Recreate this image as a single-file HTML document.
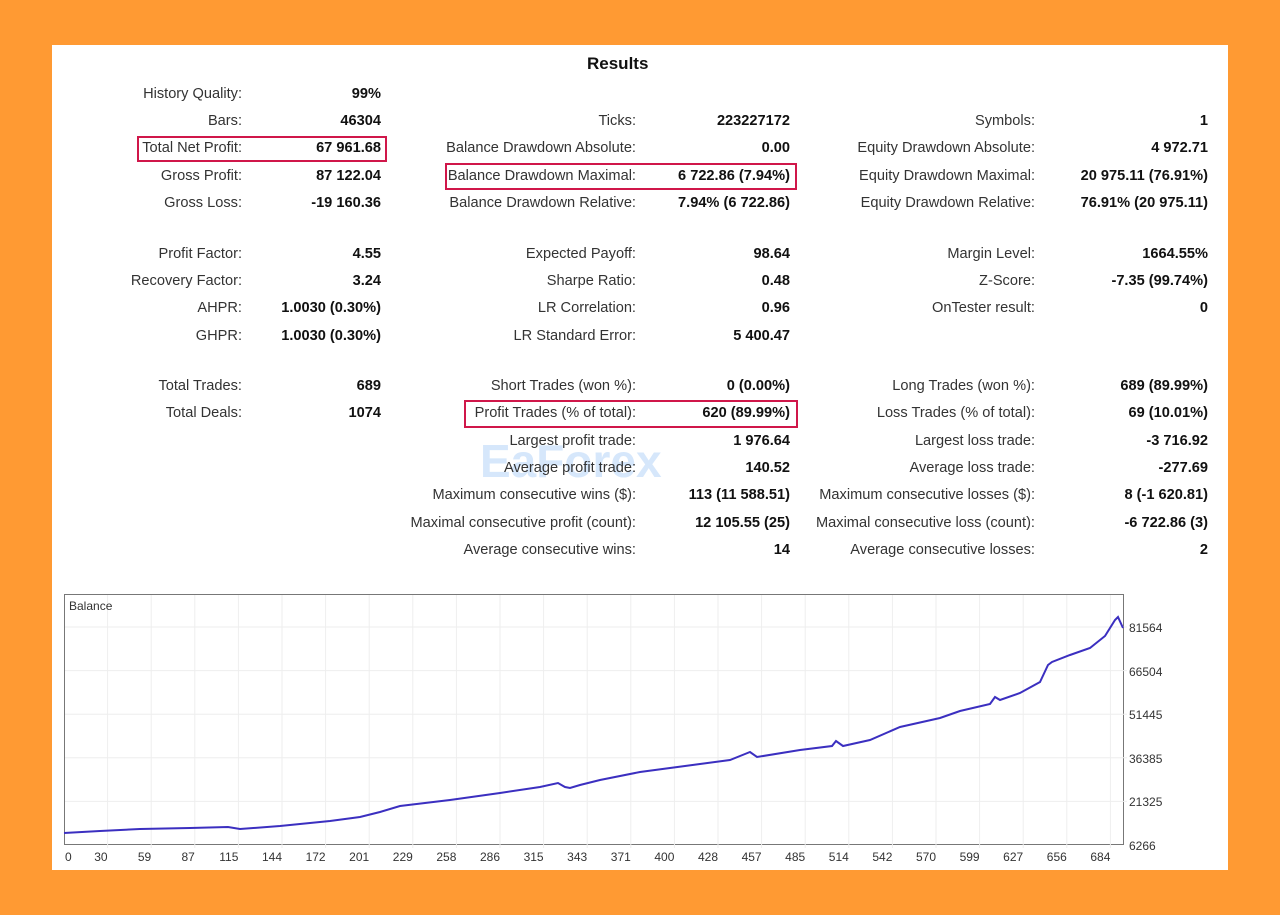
<!DOCTYPE html>
<html><head><meta charset="utf-8"><style>
body{margin:0;width:1280px;height:915px;background:#FF9A33;position:relative;overflow:hidden;font-family:"Liberation Sans",sans-serif;}
#p{position:absolute;left:52px;top:45px;width:1176px;height:825px;background:#fff;}
.t{position:absolute;font-size:14.6px;color:#333;white-space:nowrap;line-height:18px;}
.b{font-weight:bold;color:#111;}
.box{position:absolute;border:2px solid #d0174a;box-sizing:border-box;}
</style></head><body>
<div id="p"></div>
<div class="t b" style="left:587px;top:55px;font-size:17px;">Results</div>
<div class="t" style="left:480px;top:436px;font-size:46px;line-height:50px;font-weight:bold;color:rgba(90,160,240,0.25);">EaForex</div>
<div id="rows"></div>
<div class="box" style="left:137px;top:136px;width:250px;height:26px"></div>
<div class="box" style="left:445px;top:163px;width:352px;height:27px"></div>
<div class="box" style="left:464px;top:400px;width:334px;height:28px"></div>
<svg style="position:absolute;left:0;top:0" width="1280" height="915">
<rect x="64.5" y="594.5" width="1059" height="250" fill="#fff" stroke="#777"/>
<g id="grid" stroke="#eee" stroke-width="1"></g>
<text x="69" y="610" font-size="12" fill="#333" font-family="Liberation Sans">Balance</text>
<polyline fill="none" stroke="#3b2fc0" stroke-width="2" points="64,833 100,831 140,829 190,828 228,827 240,829 280,826 330,821 360,817 380,812 400,806 450,800 500,793 540,787 558,783 565,787 570,788 580,785 600,780 640,772 700,764 730,760 745,754 750,752 757,757 800,750 832,746 836,741 843,746 870,740 900,727 940,718 960,711 990,704 995,697 1000,700 1020,693 1040,682 1048,665 1052,662 1070,655 1090,648 1105,636 1115,620 1118,617 1123,628"/>
</svg>
<script>
var d=[
[94,242,"History Quality:",381,"99%"],[121,242,"Bars:",381,"46304"],[148,242,"Total Net Profit:",381,"67 961.68"],[176,242,"Gross Profit:",381,"87 122.04"],[203,242,"Gross Loss:",381,"-19 160.36"],
[254,242,"Profit Factor:",381,"4.55"],[281,242,"Recovery Factor:",381,"3.24"],[308,242,"AHPR:",381,"1.0030 (0.30%)"],[336,242,"GHPR:",381,"1.0030 (0.30%)"],
[386,242,"Total Trades:",381,"689"],[413,242,"Total Deals:",381,"1074"],
[121,636,"Ticks:",790,"223227172"],[148,636,"Balance Drawdown Absolute:",790,"0.00"],[176,636,"Balance Drawdown Maximal:",790,"6 722.86 (7.94%)"],[203,636,"Balance Drawdown Relative:",790,"7.94% (6 722.86)"],
[254,636,"Expected Payoff:",790,"98.64"],[281,636,"Sharpe Ratio:",790,"0.48"],[308,636,"LR Correlation:",790,"0.96"],[336,636,"LR Standard Error:",790,"5 400.47"],
[386,636,"Short Trades (won %):",790,"0 (0.00%)"],[413,636,"Profit Trades (% of total):",790,"620 (89.99%)"],[441,636,"Largest profit trade:",790,"1 976.64"],[468,636,"Average profit trade:",790,"140.52"],[495,636,"Maximum consecutive wins ($):",790,"113 (11 588.51)"],[523,636,"Maximal consecutive profit (count):",790,"12 105.55 (25)"],[550,636,"Average consecutive wins:",790,"14"],
[121,1035,"Symbols:",1208,"1"],[148,1035,"Equity Drawdown Absolute:",1208,"4 972.71"],[176,1035,"Equity Drawdown Maximal:",1208,"20 975.11 (76.91%)"],[203,1035,"Equity Drawdown Relative:",1208,"76.91% (20 975.11)"],
[254,1035,"Margin Level:",1208,"1664.55%"],[281,1035,"Z-Score:",1208,"-7.35 (99.74%)"],[308,1035,"OnTester result:",1208,"0"],
[386,1035,"Long Trades (won %):",1208,"689 (89.99%)"],[413,1035,"Loss Trades (% of total):",1208,"69 (10.01%)"],[441,1035,"Largest loss trade:",1208,"-3 716.92"],[468,1035,"Average loss trade:",1208,"-277.69"],[495,1035,"Maximum consecutive losses ($):",1208,"8 (-1 620.81)"],[523,1035,"Maximal consecutive loss (count):",1208,"-6 722.86 (3)"],[550,1035,"Average consecutive losses:",1208,"2"]];
var h="";d.forEach(function(r){h+='<div class="t" style="right:'+(1280-r[1])+'px;top:'+(r[0]-9)+'px">'+r[2]+'</div><div class="t b" style="right:'+(1280-r[3])+'px;top:'+(r[0]-9)+'px">'+r[4]+'</div>';});
var xl=["0","30","59","87","115","144","172","201","229","258","286","315","343","371","400","428","457","485","514","542","570","599","627","656","684"];
var yl=["81564","66504","51445","36385","21325","6266"];
xl.forEach(function(l,i){var x=64+i*43.6;if(i==0)h+='<div class="t" style="font-size:12px;left:65px;top:848px">0</div>';else h+='<div class="t" style="font-size:12px;right:'+(1280-x)+'px;top:848px">'+l+'</div>';});
yl.forEach(function(l,i){h+='<div class="t" style="font-size:12px;left:1129px;top:'+(619+i*43.6)+'px">'+l+'</div>';});
document.getElementById("rows").innerHTML=h;
var g="";for(var i=1;i<25;i++){var x=64+i*43.6;g+='<line x1="'+x+'" y1="595" x2="'+x+'" y2="848"/>';}
for(var j=0;j<5;j++){var y=627+j*43.6;g+='<line x1="65" y1="'+y+'" x2="1127" y2="'+y+'"/>';}
document.getElementById("grid").innerHTML=g;
</script>
</body></html>
